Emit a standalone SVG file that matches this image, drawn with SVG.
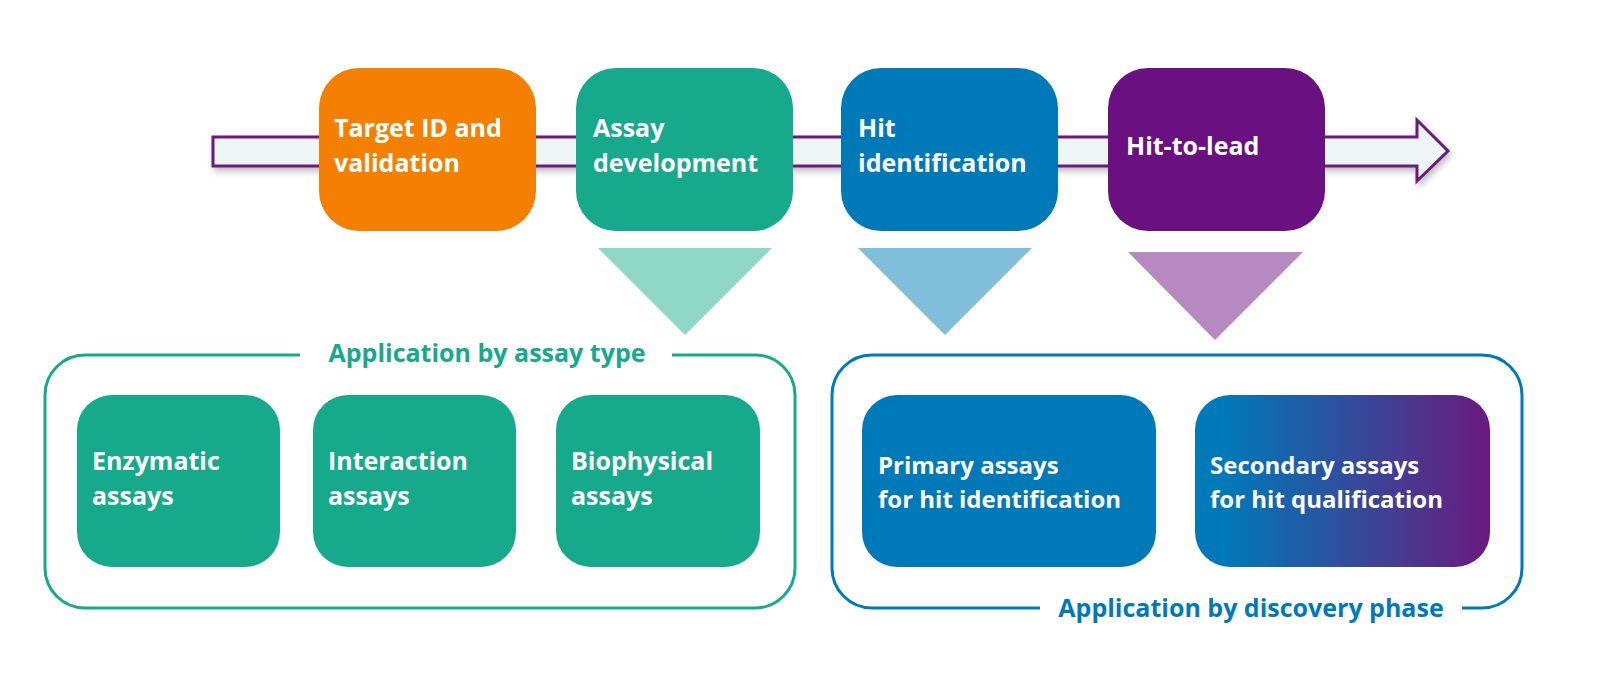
<svg xmlns="http://www.w3.org/2000/svg" width="1600" height="691" viewBox="0 0 1600 691">
<style>
text{font-family:"Open Sans","Liberation Sans",sans-serif;font-weight:bold;font-size:25px;fill:#fff}
.lbl{font-size:25px}
</style>
<defs>
<linearGradient id="g" x1="0" x2="1"><stop offset="0.1" stop-color="#0079b8"/><stop offset="1" stop-color="#6b1a7e"/></linearGradient>
<filter id="s" x="-5%" y="-20%" width="110%" height="150%"><feDropShadow dx="2" dy="4" stdDeviation="3" flood-color="#000" flood-opacity="0.25"/></filter>
</defs>
<g id="connectors">
<path d="M213,137 H1417 V120 L1448,151 L1417,181 V166 H213 Z" fill="#edf6f4" stroke="#6b1a7e" stroke-width="3" filter="url(#s)"/>
<polygon points="598,248 772,248 685,335" fill="#8fd8c8"/>
<polygon points="858,248 1032,248 945,335" fill="#80bedc"/>
<polygon points="1128,252 1303,252 1215,340" fill="#b68ac1"/>
</g>
<g id="n1"><rect x="319" y="68" width="217" height="163" rx="40" fill="#f57f00"/><text x="334" y="137">Target ID and</text><text x="334" y="172">validation</text></g>
<g id="n2"><rect x="576" y="68" width="217" height="163" rx="40" fill="#16a98b"/><text x="593" y="137">Assay</text><text x="593" y="172">development</text></g>
<g id="n3"><rect x="841" y="68" width="217" height="163" rx="40" fill="#0079b8"/><text x="858" y="137">Hit</text><text x="858" y="172">identification</text></g>
<g id="n4"><rect x="1108" y="68" width="217" height="163" rx="40" fill="#6b1080"/><text x="1126" y="155">Hit-to-lead</text></g>
<g id="frame1"><path d="M300,355 H85 A40,40 0 0 0 45,395 V568 A40,40 0 0 0 85,608 H755 A40,40 0 0 0 795,568 V395 A40,40 0 0 0 755,355 H672" fill="none" stroke="#16a98b" stroke-width="3"/><text x="487" y="362" text-anchor="middle" style="fill:#16a98b">Application by assay type</text></g>
<g id="frame2"><path d="M1040,608 H872 A40,40 0 0 1 832,568 V395 A40,40 0 0 1 872,355 H1482 A40,40 0 0 1 1522,395 V568 A40,40 0 0 1 1482,608 H1462" fill="none" stroke="#0079b8" stroke-width="3"/><text x="1251" y="617" text-anchor="middle" style="fill:#0079b8">Application by discovery phase</text></g>
<g id="e1"><rect x="77" y="395" width="203" height="172" rx="35" fill="#16a98b"/><text x="92" y="470">Enzymatic</text><text x="92" y="505">assays</text></g>
<g id="e2"><rect x="313" y="395" width="203" height="172" rx="35" fill="#16a98b"/><text x="328" y="470">Interaction</text><text x="328" y="505">assays</text></g>
<g id="e3"><rect x="556" y="395" width="204" height="172" rx="35" fill="#16a98b"/><text x="571" y="470">Biophysical</text><text x="571" y="505">assays</text></g>
<g id="p1"><rect x="862" y="395" width="294" height="172" rx="35" fill="#0079b8"/><text x="878" y="474" style="font-size:24px">Primary assays</text><text x="878" y="508" style="font-size:24px">for hit identification</text></g>
<g id="p2"><rect x="1195" y="395" width="295" height="172" rx="35" fill="url(#g)"/><text x="1210" y="474" style="font-size:24px">Secondary assays</text><text x="1210" y="508" style="font-size:24px">for hit qualification</text></g>
</svg>
